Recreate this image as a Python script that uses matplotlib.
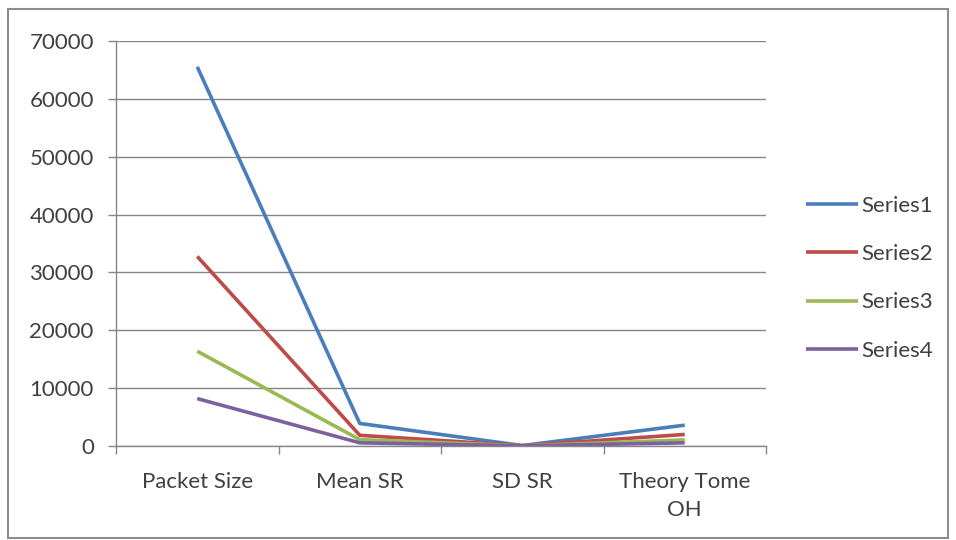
import matplotlib
matplotlib.use("Agg")
import matplotlib.pyplot as plt
from matplotlib.patches import Rectangle

categories = ["Packet Size", "Mean SR", "SD SR", "Theory Tome\nOH"]
series1 = [65536, 3900, 80, 3600]
series2 = [32768, 1850, 60, 2000]
series3 = [16384, 1100, 40, 1050]
series4 = [8192, 550, 30, 550]
series_names = ["Series1", "Series2", "Series3", "Series4"]
colors = ["#4A7EBB", "#BE4B48", "#98B954", "#7D60A0"]
yticks = [0, 10000, 20000, 30000, 40000, 50000, 60000, 70000]

plt.rcParams['font.family'] = ['Lato', 'DejaVu Sans']

fig = plt.figure(figsize=(9.56, 5.4), dpi=100)
fig.patches.append(Rectangle((8/956, 2/540), 940/956, 529/540, transform=fig.transFigure,
                             fill=False, edgecolor="#8c8c8c", linewidth=1.5))
ax = fig.add_axes([116/956, 1-446/540, (766-116)/956, (446-41)/540])

x = list(range(len(categories)))
for vals, name, c in zip([series1, series2, series3, series4], series_names, colors):
    ax.plot(x, vals, color=c, lw=2.6, label=name, solid_capstyle='butt')

ax.set_xlim(-0.5, 3.5)
ax.set_ylim(0, 70000)
ax.set_yticks(yticks)
ax.set_yticklabels([str(v) for v in yticks])
ax.set_xticks(x)
ax.set_xticklabels(categories, linespacing=1.45)
ax.set_xticks([-0.5, 0.5, 1.5, 2.5, 3.5], minor=True)
ax.tick_params(axis='x', which='major', length=0, pad=19, labelsize=16, labelcolor="#404040")
ax.tick_params(axis='x', which='minor', length=6, color="#868686", width=1)
ax.tick_params(axis='y', length=6, color="#868686", width=1, pad=10, labelsize=16, labelcolor="#404040")
ax.grid(axis='y', color="#868686", lw=1)
ax.set_axisbelow(True)
for s in ['top', 'right']:
    ax.spines[s].set_visible(False)
for s in ['left', 'bottom']:
    ax.spines[s].set_color("#868686")
    ax.spines[s].set_linewidth(1)

leg = ax.legend(loc='upper left', bbox_to_anchor=(786/956, 1-176/540), bbox_transform=fig.transFigure,
                frameon=False, fontsize=16, handlelength=2.35, handletextpad=0.12, labelspacing=1.27,
                labelcolor="#404040")

fig.savefig("out.png", dpi=100)
